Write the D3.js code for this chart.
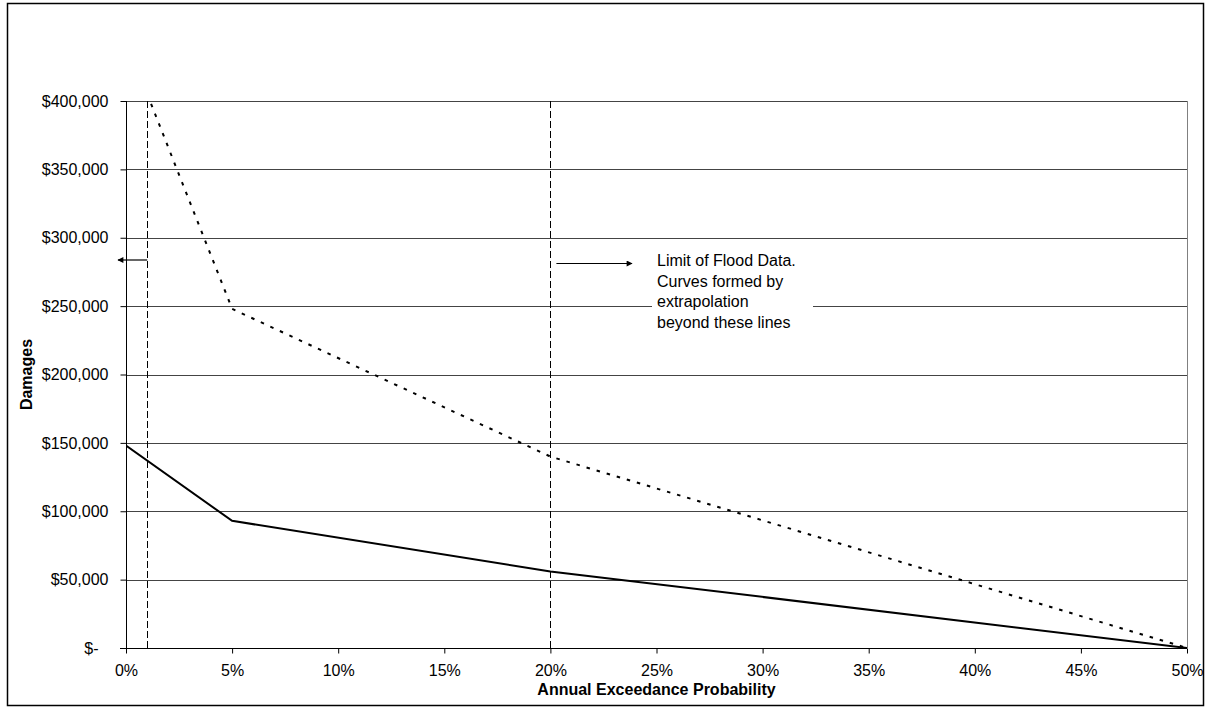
<!DOCTYPE html>
<html>
<head>
<meta charset="utf-8">
<script src="https://cdn.jsdelivr.net/npm/d3@7"></script>
<style>
  html, body { margin: 0; padding: 0; background: #fff; }
  svg { display: block; font-family: "Liberation Sans", Arial, sans-serif; }
</style>
</head>
<body>
<svg id="chart" width="1205" height="707"></svg>
<script>
// Annual exceedance probability (fraction) and damages for each curve
const solidProb = [0, 0.05, 0.20, 0.50];
const solidDamages = [148000, 93000, 56000, 0];
const dottedProb = [0.01, 0.05, 0.20, 0.50];
const dottedDamages = [405000, 248000, 140000, 0];

// Axis ticks
const xTicks = [0, 0.05, 0.10, 0.15, 0.20, 0.25, 0.30, 0.35, 0.40, 0.45, 0.50];
const yTicks = [0, 50000, 100000, 150000, 200000, 250000, 300000, 350000, 400000];

// Limits of the flood data (vertical dashed lines)
const dataLimits = [0.01, 0.20];

const noteLines = ["Limit of Flood Data.", "Curves formed by", "extrapolation", "beyond these lines"];

const svg = d3.select("#chart");
const plotLeft = 126, plotRight = 1187, plotTop = 101, plotBottom = 648;

const x = d3.scaleLinear().domain([0, 0.5]).range([plotLeft, plotRight]);
const y = d3.scaleLinear().domain([0, 400000]).range([plotBottom, plotTop]);

// Outer chart frame
svg.append("rect")
  .attr("x", 7.5).attr("y", 3.5).attr("width", 1196).attr("height", 702)
  .attr("fill", "none").attr("stroke", "#000").attr("stroke-width", 1.5);

const defs = svg.append("defs");
defs.append("clipPath").attr("id", "plotClip")
  .append("rect").attr("x", plotLeft).attr("y", plotTop)
  .attr("width", plotRight - plotLeft).attr("height", plotBottom - plotTop);
defs.append("marker")
  .attr("id", "arrowHead").attr("viewBox", "0 0 10 10")
  .attr("refX", 9).attr("refY", 5)
  .attr("markerWidth", 8).attr("markerHeight", 6)
  .attr("markerUnits", "userSpaceOnUse")
  .attr("orient", "auto")
  .append("path").attr("d", "M0,0 L10,5 L0,10 Z").attr("fill", "#000");

// Horizontal gridlines
svg.append("g").selectAll("line")
  .data(yTicks.filter(d => d > 0))
  .join("line")
  .attr("x1", plotLeft).attr("x2", plotRight)
  .attr("y1", d => Math.round(y(d)) + 0.5).attr("y2", d => Math.round(y(d)) + 0.5)
  .attr("stroke", "#444").attr("stroke-width", 1);

// Right edge of the plot area
svg.append("line")
  .attr("x1", plotRight + 0.5).attr("x2", plotRight + 0.5)
  .attr("y1", plotTop).attr("y2", plotBottom)
  .attr("stroke", "#808080").attr("stroke-width", 1);

// Note box (white background interrupts the gridline)
const noteX = 657, noteY0 = 266, noteDy = 20.5;
svg.append("rect")
  .attr("x", 652).attr("y", 247).attr("width", 161).attr("height", 88)
  .attr("fill", "#fff");
svg.append("g").selectAll("text")
  .data(noteLines)
  .join("text")
  .attr("x", noteX).attr("y", (d, i) => noteY0 + i * noteDy)
  .attr("font-size", 16).attr("fill", "#000")
  .text(d => d);

// Dashed lines marking the data limits
svg.append("g").selectAll("line")
  .data(dataLimits)
  .join("line")
  .attr("x1", d => Math.round(x(d)) + 0.5).attr("x2", d => Math.round(x(d)) + 0.5)
  .attr("y1", plotTop).attr("y2", plotBottom)
  .attr("stroke", "#000").attr("stroke-width", 1)
  .attr("stroke-dasharray", "7,3");

// Arrows pointing away from the data limits
svg.append("line")
  .attr("x1", x(dataLimits[0])).attr("x2", 118)
  .attr("y1", 260).attr("y2", 260)
  .attr("stroke", "#000").attr("stroke-width", 1.2)
  .attr("marker-end", "url(#arrowHead)");
svg.append("line")
  .attr("x1", x(dataLimits[1]) + 6).attr("x2", 632)
  .attr("y1", 263.5).attr("y2", 263.5)
  .attr("stroke", "#000").attr("stroke-width", 1.2)
  .attr("marker-end", "url(#arrowHead)");

// Damage curves
const line = d3.line().x(d => x(d[0])).y(d => y(d[1]));
const plot = svg.append("g").attr("clip-path", "url(#plotClip)");
plot.append("path")
  .datum(dottedProb.map((p, i) => [p, dottedDamages[i]]))
  .attr("d", line)
  .attr("fill", "none").attr("stroke", "#000").attr("stroke-width", 2)
  .attr("stroke-dasharray", "3.5,7");
plot.append("path")
  .datum(solidProb.map((p, i) => [p, solidDamages[i]]))
  .attr("d", line)
  .attr("fill", "none").attr("stroke", "#000").attr("stroke-width", 2);

// Y axis
const yFmt = d => d === 0 ? "$-" : "$" + d3.format(",")(d);
const yAxis = d3.axisLeft(y).tickValues(yTicks).tickFormat(yFmt).tickSize(6).tickPadding(12);
const gy = svg.append("g").attr("transform", `translate(${plotLeft + 0.5},0)`).call(yAxis);
gy.select(".domain").attr("stroke", "#000").attr("d", `M0,${plotTop}V${plotBottom}`);
gy.selectAll(".tick line").attr("stroke", "#000");
gy.selectAll(".tick text")
  .attr("font-size", 16).attr("fill", "#000")
  .attr("font-family", "\"Liberation Sans\", Arial, sans-serif")
  .attr("dx", d => d === 0 ? -10 : 0);

// X axis
const xAxis = d3.axisBottom(x).tickValues(xTicks).tickFormat(d3.format(".0%")).tickSize(5).tickPadding(11);
const gx = svg.append("g").attr("transform", `translate(0,${plotBottom + 0.5})`).call(xAxis);
gx.select(".domain").attr("stroke", "#000").attr("d", `M${plotLeft - 6},0H${plotRight}`);
gx.selectAll(".tick line").attr("stroke", "#000");
gx.selectAll(".tick text")
  .attr("font-size", 16).attr("fill", "#000")
  .attr("font-family", "\"Liberation Sans\", Arial, sans-serif");

// Axis titles
svg.append("text")
  .attr("x", (plotLeft + plotRight) / 2).attr("y", 695)
  .attr("text-anchor", "middle").attr("font-size", 16).attr("font-weight", "bold")
  .text("Annual Exceedance Probability");
svg.append("text")
  .attr("transform", `translate(32,${(plotTop + plotBottom) / 2}) rotate(-90)`)
  .attr("text-anchor", "middle").attr("font-size", 16).attr("font-weight", "bold")
  .text("Damages");
</script>
</body>
</html>
